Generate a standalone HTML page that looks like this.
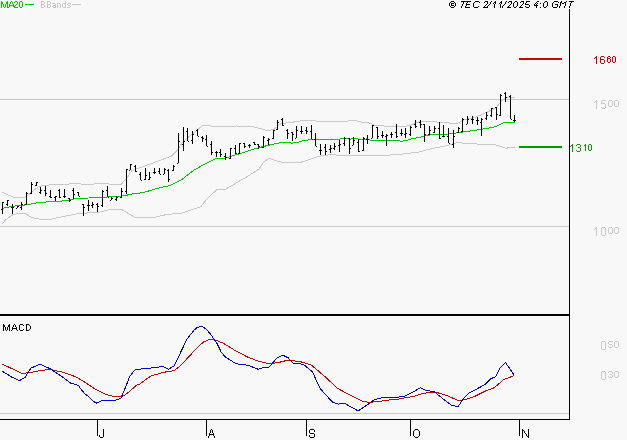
<!DOCTYPE html>
<html><head><meta charset="utf-8"><style>
html,body{margin:0;padding:0;background:#f8f8f8;}
svg{display:block;will-change:transform;}
text{font-family:"Liberation Sans",sans-serif;text-rendering:geometricPrecision;}
</style></head><body>
<svg width="627" height="440" viewBox="0 0 627 440" shape-rendering="crispEdges">
<rect x="0" y="0" width="627" height="440" fill="#f8f8f8"/>
<!-- gridlines -->
<rect x="0" y="99" width="569" height="1" fill="#c8c8c8"/>
<rect x="0" y="226" width="569" height="1" fill="#c8c8c8"/>
<rect x="0" y="413" width="569" height="1" fill="#c8c8c8"/>
<!-- axes -->
<rect x="569" y="9" width="1" height="411" fill="#000"/>
<rect x="0" y="314" width="569" height="2" fill="#000"/>
<rect x="0" y="419" width="570" height="1" fill="#000"/>
<rect x="97" y="419" width="1" height="17" fill="#000"/>
<rect x="206" y="419" width="1" height="17" fill="#000"/>
<rect x="306" y="419" width="1" height="17" fill="#000"/>
<rect x="410" y="419" width="1" height="17" fill="#000"/>
<rect x="519" y="419" width="1" height="17" fill="#000"/>
<!-- bands -->
<g fill="none" shape-rendering="crispEdges">
<path d="M2.0,192.2 L7.7,194.8 L14.4,197.5 L23.9,198.0 L27.8,195.3 L32.5,191.5 L38.3,186.7 L44.0,185.3 L52.6,184.8 L60.0,184.3 L75.6,183.8 L90.1,184.3 L100.2,183.5 L109.1,184.0 L121.4,184.0 L127.0,178.0 L132.0,170.2 L140.0,167.8 L155.9,161.8 L171.8,155.9 L176.6,151.1 L181.4,143.9 L187.8,137.5 L194.2,132.8 L202.1,125.9 L208.5,125.6 L216.5,126.9 L224.0,126.7 L236.0,126.0 L251.9,126.4 L259.9,128.4 L267.8,130.7 L274.2,129.2 L280.6,123.9 L284.3,123.3 L294.3,121.9 L305.8,120.2 L313.0,120.5 L320.2,121.9 L334.5,121.9 L346.0,121.2 L354.6,120.5 L360.3,121.9 L370.0,123.2 L374.2,125.2 L383.8,126.0 L396.6,126.7 L406.1,126.3 L412.5,124.4 L420.0,121.6 L432.8,121.6 L443.9,122.7 L456.7,123.5 L464.7,119.5 L475.8,117.1 L487.0,112.3 L496.6,107.5 L501.3,101.2 L506.1,97.2 L514.9,97.2" stroke="#c8c8c8" stroke-width="1"/>
<path d="M2.0,223.9 L6.4,219.2 L12.8,214.8 L19.1,213.3 L25.5,213.9 L31.9,217.6 L39.9,219.2 L51.0,219.2 L63.8,216.4 L76.6,213.9 L89.3,212.8 L100.0,212.0 L111.5,209.2 L121.1,209.2 L134.4,217.2 L155.5,217.2 L167.0,214.4 L180.4,213.4 L195.7,208.6 L200.8,206.6 L208.0,197.8 L217.5,189.1 L225.5,189.1 L236.7,182.7 L247.8,176.3 L259.0,169.1 L263.8,162.0 L268.6,158.3 L278.1,161.5 L282.9,162.4 L300.0,162.5 L319.1,156.3 L328.7,154.9 L357.4,155.3 L386.1,155.3 L405.3,153.8 L420.0,151.9 L429.1,149.1 L448.3,145.3 L457.8,142.4 L467.4,143.8 L494.2,144.4 L505.7,148.2 L515.3,147.2" stroke="#c8c8c8" stroke-width="1"/>
<path d="M2.0,208.5 L9.6,206.9 L15.3,206.0 L22.0,205.3 L28.7,204.5 L33.5,203.6 L38.3,202.4 L52.6,201.7 L55.5,201.2 L60.0,201.2 L69.6,200.0 L76.3,198.3 L88.7,198.0 L100.2,197.6 L108.8,196.8 L120.0,196.4 L126.7,195.2 L134.4,193.5 L143.0,192.8 L151.6,190.0 L160.2,187.6 L167.8,186.1 L170.0,185.3 L176.4,182.5 L182.8,178.9 L187.5,174.9 L193.9,170.2 L199.5,167.0 L205.1,163.8 L209.9,161.4 L215.5,158.6 L220.0,158.4 L223.0,158.4 L228.7,157.2 L233.5,155.3 L238.0,154.2 L245.7,151.7 L253.3,149.3 L261.9,146.9 L269.6,145.0 L280.1,142.8 L289.7,142.4 L291.6,143.2 L298.0,142.2 L303.7,140.5 L312.4,139.6 L326.7,139.3 L340.1,139.1 L343.0,138.1 L347.8,138.6 L349.7,139.4 L353.5,138.1 L358.0,139.1 L367.6,139.0 L370.4,140.2 L398.2,140.2 L401.1,141.4 L407.8,140.2 L413.5,138.3 L418.0,137.7 L423.7,136.4 L432.4,134.4 L449.6,134.0 L452.4,133.3 L460.1,132.7 L465.8,131.4 L474.8,130.5 L479.6,129.6 L486.0,128.4 L493.9,127.2 L497.9,125.6 L504.3,122.4 L514.7,122.4" stroke="#00c800" stroke-width="1"/>
<path d="M2.0,364.2 L2.3,364.2 L13.6,369.4 L21.6,373.3 L29.5,372.8 L40.9,370.5 L50.0,369.4 L63.6,372.4 L77.3,377.4 L80.0,379.3 L85.7,382.7 L91.4,386.7 L97.0,390.1 L102.7,393.0 L108.4,395.2 L114.1,396.4 L120.9,396.9 L125.5,394.7 L131.1,390.1 L136.8,385.0 L140.0,383.9 L150.5,376.2 L163.0,372.4 L172.0,371.0 L175.1,370.0 L181.4,364.9 L187.0,358.6 L195.0,350.1 L199.5,345.6 L204.1,341.6 L208.6,339.9 L213.2,339.3 L217.7,341.0 L223.4,343.3 L230.0,347.3 L234.5,350.1 L248.2,357.4 L259.5,361.5 L269.1,363.7 L278.2,362.6 L287.3,360.3 L299.8,361.5 L311.1,364.9 L325.9,377.4 L337.3,388.3 L350.9,395.5 L362.3,401.2 L369.1,402.4 L380.5,401.2 L391.8,399.6 L399.1,399.0 L415.0,396.0 L423.0,393.3 L435.5,392.1 L446.8,395.5 L458.2,400.5 L465.0,399.6 L474.1,396.7 L485.5,391.0 L494.5,387.6 L503.6,379.6 L514.5,375.5" stroke="#cc0000" stroke-width="1"/>
<path d="M2.0,371.2 L2.3,371.2 L11.4,376.9 L19.3,380.8 L25.0,377.4 L30.7,368.3 L39.8,364.2 L50.0,368.7 L59.1,374.6 L70.5,383.0 L78.4,385.3 L80.0,387.8 L84.5,393.5 L89.1,396.9 L93.6,401.5 L97.0,403.2 L102.7,400.3 L114.1,400.9 L120.9,398.1 L125.5,387.3 L130.0,375.9 L135.7,369.1 L140.0,369.1 L143.6,368.7 L152.7,367.8 L163.0,366.5 L168.6,369.4 L170.0,368.3 L174.5,365.5 L181.4,350.7 L187.0,339.3 L193.9,330.2 L197.3,327.4 L201.8,326.3 L206.4,329.1 L210.9,334.8 L216.6,342.7 L221.1,351.8 L225.7,357.5 L230.0,359.8 L235.7,363.7 L248.2,365.3 L258.4,369.4 L264.1,367.1 L269.1,367.1 L277.0,358.0 L282.7,355.1 L288.4,358.0 L293.0,363.3 L303.2,364.2 L312.3,371.7 L320.2,388.7 L332.7,402.4 L338.4,404.2 L344.1,403.0 L350.9,406.9 L358.2,411.0 L369.1,403.5 L373.6,400.1 L382.7,397.4 L403.6,396.9 L412.7,392.1 L420.7,387.6 L424.1,389.9 L434.3,391.7 L442.3,398.3 L451.4,405.3 L458.2,406.5 L462.7,399.6 L469.5,392.8 L476.4,389.2 L485.5,384.2 L491.1,378.5 L495.7,376.9 L500.2,367.8 L505.5,362.6 L514.5,375.5" stroke="#0000cc" stroke-width="1"/>
</g>
<!-- bars -->
<g fill="#000">
<rect x="2" y="202" width="1" height="12"/>
<rect x="1" y="209" width="1" height="1"/>
<rect x="3" y="202" width="1" height="1"/>
<rect x="7" y="200" width="1" height="6"/>
<rect x="6" y="204" width="1" height="1"/>
<rect x="8" y="200" width="1" height="1"/>
<rect x="12" y="204" width="1" height="10"/>
<rect x="11" y="207" width="1" height="1"/>
<rect x="13" y="207" width="1" height="1"/>
<rect x="17" y="206" width="1" height="2"/>
<rect x="16" y="208" width="1" height="1"/>
<rect x="18" y="206" width="1" height="1"/>
<rect x="21" y="202" width="1" height="8"/>
<rect x="20" y="207" width="1" height="1"/>
<rect x="22" y="204" width="1" height="1"/>
<rect x="26" y="192" width="1" height="13"/>
<rect x="25" y="204" width="1" height="1"/>
<rect x="27" y="193" width="1" height="1"/>
<rect x="31" y="182" width="1" height="12"/>
<rect x="30" y="193" width="1" height="1"/>
<rect x="32" y="184" width="1" height="1"/>
<rect x="36" y="182" width="1" height="4"/>
<rect x="35" y="185" width="1" height="1"/>
<rect x="37" y="182" width="1" height="1"/>
<rect x="40" y="187" width="1" height="7"/>
<rect x="39" y="192" width="1" height="1"/>
<rect x="41" y="190" width="1" height="1"/>
<rect x="45" y="186" width="1" height="10"/>
<rect x="44" y="190" width="1" height="1"/>
<rect x="46" y="193" width="1" height="1"/>
<rect x="50" y="190" width="1" height="8"/>
<rect x="49" y="196" width="1" height="1"/>
<rect x="51" y="197" width="1" height="1"/>
<rect x="55" y="196" width="1" height="5"/>
<rect x="54" y="197" width="1" height="1"/>
<rect x="56" y="196" width="1" height="1"/>
<rect x="59" y="189" width="1" height="9"/>
<rect x="58" y="190" width="1" height="1"/>
<rect x="60" y="197" width="1" height="1"/>
<rect x="64" y="189" width="1" height="9"/>
<rect x="63" y="196" width="1" height="1"/>
<rect x="65" y="196" width="1" height="1"/>
<rect x="69" y="198" width="1" height="4"/>
<rect x="68" y="198" width="1" height="1"/>
<rect x="70" y="200" width="1" height="1"/>
<rect x="73" y="188" width="1" height="11"/>
<rect x="72" y="190" width="1" height="1"/>
<rect x="74" y="194" width="1" height="1"/>
<rect x="78" y="192" width="1" height="4"/>
<rect x="77" y="192" width="1" height="1"/>
<rect x="79" y="196" width="1" height="1"/>
<rect x="83" y="204" width="1" height="12"/>
<rect x="82" y="204" width="1" height="1"/>
<rect x="84" y="207" width="1" height="1"/>
<rect x="88" y="200" width="1" height="11"/>
<rect x="87" y="205" width="1" height="1"/>
<rect x="89" y="205" width="1" height="1"/>
<rect x="92" y="202" width="1" height="6"/>
<rect x="91" y="205" width="1" height="1"/>
<rect x="93" y="204" width="1" height="1"/>
<rect x="97" y="203" width="1" height="9"/>
<rect x="96" y="204" width="1" height="1"/>
<rect x="98" y="206" width="1" height="1"/>
<rect x="102" y="190" width="1" height="17"/>
<rect x="101" y="205" width="1" height="1"/>
<rect x="103" y="191" width="1" height="1"/>
<rect x="107" y="186" width="1" height="11"/>
<rect x="106" y="190" width="1" height="1"/>
<rect x="108" y="197" width="1" height="1"/>
<rect x="111" y="197" width="1" height="3"/>
<rect x="110" y="200" width="1" height="1"/>
<rect x="112" y="198" width="1" height="1"/>
<rect x="116" y="196" width="1" height="5"/>
<rect x="115" y="199" width="1" height="1"/>
<rect x="117" y="197" width="1" height="1"/>
<rect x="121" y="188" width="1" height="10"/>
<rect x="120" y="197" width="1" height="1"/>
<rect x="122" y="191" width="1" height="1"/>
<rect x="126" y="169" width="1" height="25"/>
<rect x="125" y="191" width="1" height="1"/>
<rect x="127" y="169" width="1" height="1"/>
<rect x="130" y="164" width="1" height="6"/>
<rect x="129" y="170" width="1" height="1"/>
<rect x="131" y="164" width="1" height="1"/>
<rect x="135" y="165" width="1" height="7"/>
<rect x="134" y="166" width="1" height="1"/>
<rect x="136" y="171" width="1" height="1"/>
<rect x="140" y="172" width="1" height="8"/>
<rect x="139" y="174" width="1" height="1"/>
<rect x="141" y="180" width="1" height="1"/>
<rect x="145" y="168" width="1" height="12"/>
<rect x="144" y="179" width="1" height="1"/>
<rect x="146" y="175" width="1" height="1"/>
<rect x="149" y="172" width="1" height="8"/>
<rect x="148" y="179" width="1" height="1"/>
<rect x="150" y="177" width="1" height="1"/>
<rect x="154" y="168" width="1" height="6"/>
<rect x="153" y="172" width="1" height="1"/>
<rect x="155" y="172" width="1" height="1"/>
<rect x="159" y="168" width="1" height="6"/>
<rect x="158" y="171" width="1" height="1"/>
<rect x="160" y="174" width="1" height="1"/>
<rect x="164" y="168" width="1" height="6"/>
<rect x="163" y="174" width="1" height="1"/>
<rect x="165" y="169" width="1" height="1"/>
<rect x="168" y="169" width="1" height="13"/>
<rect x="167" y="170" width="1" height="1"/>
<rect x="169" y="179" width="1" height="1"/>
<rect x="173" y="165" width="1" height="6"/>
<rect x="172" y="170" width="1" height="1"/>
<rect x="174" y="166" width="1" height="1"/>
<rect x="178" y="133" width="1" height="30"/>
<rect x="177" y="163" width="1" height="1"/>
<rect x="179" y="141" width="1" height="1"/>
<rect x="183" y="127" width="1" height="24"/>
<rect x="182" y="144" width="1" height="1"/>
<rect x="184" y="141" width="1" height="1"/>
<rect x="187" y="128" width="1" height="13"/>
<rect x="186" y="131" width="1" height="1"/>
<rect x="188" y="141" width="1" height="1"/>
<rect x="192" y="131" width="1" height="13"/>
<rect x="191" y="140" width="1" height="1"/>
<rect x="193" y="134" width="1" height="1"/>
<rect x="197" y="129" width="1" height="7"/>
<rect x="196" y="130" width="1" height="1"/>
<rect x="198" y="136" width="1" height="1"/>
<rect x="202" y="136" width="1" height="6"/>
<rect x="201" y="137" width="1" height="1"/>
<rect x="203" y="138" width="1" height="1"/>
<rect x="206" y="135" width="1" height="11"/>
<rect x="205" y="139" width="1" height="1"/>
<rect x="207" y="146" width="1" height="1"/>
<rect x="211" y="141" width="1" height="14"/>
<rect x="210" y="144" width="1" height="1"/>
<rect x="212" y="152" width="1" height="1"/>
<rect x="216" y="151" width="1" height="6"/>
<rect x="215" y="152" width="1" height="1"/>
<rect x="217" y="152" width="1" height="1"/>
<rect x="220" y="149" width="1" height="8"/>
<rect x="219" y="152" width="1" height="1"/>
<rect x="221" y="154" width="1" height="1"/>
<rect x="225" y="153" width="1" height="7"/>
<rect x="224" y="156" width="1" height="1"/>
<rect x="226" y="157" width="1" height="1"/>
<rect x="230" y="148" width="1" height="11"/>
<rect x="229" y="158" width="1" height="1"/>
<rect x="231" y="148" width="1" height="1"/>
<rect x="235" y="145" width="1" height="9"/>
<rect x="234" y="148" width="1" height="1"/>
<rect x="236" y="153" width="1" height="1"/>
<rect x="239" y="143" width="1" height="11"/>
<rect x="238" y="153" width="1" height="1"/>
<rect x="240" y="143" width="1" height="1"/>
<rect x="244" y="143" width="1" height="5"/>
<rect x="243" y="143" width="1" height="1"/>
<rect x="245" y="146" width="1" height="1"/>
<rect x="249" y="144" width="1" height="4"/>
<rect x="248" y="145" width="1" height="1"/>
<rect x="250" y="145" width="1" height="1"/>
<rect x="254" y="142" width="1" height="3"/>
<rect x="253" y="142" width="1" height="1"/>
<rect x="255" y="144" width="1" height="1"/>
<rect x="258" y="144" width="1" height="5"/>
<rect x="257" y="144" width="1" height="1"/>
<rect x="259" y="146" width="1" height="1"/>
<rect x="263" y="136" width="1" height="12"/>
<rect x="262" y="147" width="1" height="1"/>
<rect x="264" y="137" width="1" height="1"/>
<rect x="268" y="138" width="1" height="7"/>
<rect x="267" y="140" width="1" height="1"/>
<rect x="269" y="139" width="1" height="1"/>
<rect x="273" y="130" width="1" height="9"/>
<rect x="272" y="138" width="1" height="1"/>
<rect x="274" y="130" width="1" height="1"/>
<rect x="277" y="120" width="1" height="10"/>
<rect x="276" y="129" width="1" height="1"/>
<rect x="278" y="122" width="1" height="1"/>
<rect x="282" y="118" width="1" height="8"/>
<rect x="281" y="119" width="1" height="1"/>
<rect x="283" y="125" width="1" height="1"/>
<rect x="287" y="129" width="1" height="10"/>
<rect x="286" y="130" width="1" height="1"/>
<rect x="288" y="133" width="1" height="1"/>
<rect x="292" y="132" width="1" height="9"/>
<rect x="291" y="132" width="1" height="1"/>
<rect x="293" y="134" width="1" height="1"/>
<rect x="296" y="126" width="1" height="12"/>
<rect x="295" y="138" width="1" height="1"/>
<rect x="297" y="130" width="1" height="1"/>
<rect x="301" y="126" width="1" height="8"/>
<rect x="300" y="131" width="1" height="1"/>
<rect x="302" y="131" width="1" height="1"/>
<rect x="306" y="127" width="1" height="7"/>
<rect x="305" y="130" width="1" height="1"/>
<rect x="307" y="131" width="1" height="1"/>
<rect x="311" y="125" width="1" height="14"/>
<rect x="310" y="131" width="1" height="1"/>
<rect x="312" y="139" width="1" height="1"/>
<rect x="315" y="133" width="1" height="13"/>
<rect x="314" y="139" width="1" height="1"/>
<rect x="316" y="146" width="1" height="1"/>
<rect x="320" y="144" width="1" height="11"/>
<rect x="319" y="150" width="1" height="1"/>
<rect x="321" y="150" width="1" height="1"/>
<rect x="325" y="144" width="1" height="11"/>
<rect x="324" y="147" width="1" height="1"/>
<rect x="326" y="151" width="1" height="1"/>
<rect x="330" y="145" width="1" height="8"/>
<rect x="329" y="149" width="1" height="1"/>
<rect x="331" y="148" width="1" height="1"/>
<rect x="334" y="143" width="1" height="7"/>
<rect x="333" y="148" width="1" height="1"/>
<rect x="335" y="146" width="1" height="1"/>
<rect x="339" y="140" width="1" height="12"/>
<rect x="338" y="145" width="1" height="1"/>
<rect x="340" y="144" width="1" height="1"/>
<rect x="344" y="137" width="1" height="9"/>
<rect x="343" y="143" width="1" height="1"/>
<rect x="345" y="138" width="1" height="1"/>
<rect x="349" y="138" width="1" height="16"/>
<rect x="348" y="138" width="1" height="1"/>
<rect x="350" y="148" width="1" height="1"/>
<rect x="353" y="137" width="1" height="8"/>
<rect x="352" y="145" width="1" height="1"/>
<rect x="354" y="140" width="1" height="1"/>
<rect x="358" y="139" width="1" height="13"/>
<rect x="357" y="142" width="1" height="1"/>
<rect x="359" y="151" width="1" height="1"/>
<rect x="363" y="137" width="1" height="14"/>
<rect x="362" y="150" width="1" height="1"/>
<rect x="364" y="138" width="1" height="1"/>
<rect x="367" y="135" width="1" height="9"/>
<rect x="366" y="139" width="1" height="1"/>
<rect x="368" y="139" width="1" height="1"/>
<rect x="372" y="125" width="1" height="13"/>
<rect x="371" y="138" width="1" height="1"/>
<rect x="373" y="125" width="1" height="1"/>
<rect x="377" y="127" width="1" height="12"/>
<rect x="376" y="127" width="1" height="1"/>
<rect x="378" y="136" width="1" height="1"/>
<rect x="382" y="131" width="1" height="7"/>
<rect x="381" y="135" width="1" height="1"/>
<rect x="383" y="135" width="1" height="1"/>
<rect x="386" y="134" width="1" height="12"/>
<rect x="385" y="136" width="1" height="1"/>
<rect x="387" y="135" width="1" height="1"/>
<rect x="391" y="132" width="1" height="6"/>
<rect x="390" y="134" width="1" height="1"/>
<rect x="392" y="134" width="1" height="1"/>
<rect x="396" y="124" width="1" height="14"/>
<rect x="395" y="132" width="1" height="1"/>
<rect x="397" y="136" width="1" height="1"/>
<rect x="401" y="129" width="1" height="7"/>
<rect x="400" y="133" width="1" height="1"/>
<rect x="402" y="133" width="1" height="1"/>
<rect x="405" y="128" width="1" height="10"/>
<rect x="404" y="134" width="1" height="1"/>
<rect x="406" y="133" width="1" height="1"/>
<rect x="410" y="126" width="1" height="10"/>
<rect x="409" y="134" width="1" height="1"/>
<rect x="411" y="127" width="1" height="1"/>
<rect x="415" y="120" width="1" height="8"/>
<rect x="414" y="124" width="1" height="1"/>
<rect x="416" y="126" width="1" height="1"/>
<rect x="420" y="120" width="1" height="8"/>
<rect x="419" y="122" width="1" height="1"/>
<rect x="421" y="124" width="1" height="1"/>
<rect x="424" y="124" width="1" height="18"/>
<rect x="423" y="124" width="1" height="1"/>
<rect x="425" y="134" width="1" height="1"/>
<rect x="429" y="126" width="1" height="9"/>
<rect x="428" y="134" width="1" height="1"/>
<rect x="430" y="130" width="1" height="1"/>
<rect x="434" y="126" width="1" height="7"/>
<rect x="433" y="132" width="1" height="1"/>
<rect x="435" y="128" width="1" height="1"/>
<rect x="439" y="122" width="1" height="17"/>
<rect x="438" y="128" width="1" height="1"/>
<rect x="440" y="138" width="1" height="1"/>
<rect x="443" y="125" width="1" height="12"/>
<rect x="442" y="136" width="1" height="1"/>
<rect x="444" y="136" width="1" height="1"/>
<rect x="448" y="128" width="1" height="15"/>
<rect x="447" y="136" width="1" height="1"/>
<rect x="449" y="143" width="1" height="1"/>
<rect x="453" y="130" width="1" height="18"/>
<rect x="452" y="144" width="1" height="1"/>
<rect x="454" y="136" width="1" height="1"/>
<rect x="458" y="127" width="1" height="6"/>
<rect x="457" y="132" width="1" height="1"/>
<rect x="459" y="128" width="1" height="1"/>
<rect x="462" y="118" width="1" height="14"/>
<rect x="461" y="131" width="1" height="1"/>
<rect x="463" y="119" width="1" height="1"/>
<rect x="467" y="116" width="1" height="8"/>
<rect x="466" y="124" width="1" height="1"/>
<rect x="468" y="119" width="1" height="1"/>
<rect x="472" y="116" width="1" height="8"/>
<rect x="471" y="119" width="1" height="1"/>
<rect x="473" y="119" width="1" height="1"/>
<rect x="477" y="117" width="1" height="8"/>
<rect x="476" y="120" width="1" height="1"/>
<rect x="478" y="120" width="1" height="1"/>
<rect x="481" y="118" width="1" height="18"/>
<rect x="480" y="122" width="1" height="1"/>
<rect x="482" y="119" width="1" height="1"/>
<rect x="486" y="112" width="1" height="8"/>
<rect x="485" y="118" width="1" height="1"/>
<rect x="487" y="115" width="1" height="1"/>
<rect x="491" y="108" width="1" height="9"/>
<rect x="490" y="115" width="1" height="1"/>
<rect x="492" y="108" width="1" height="1"/>
<rect x="496" y="107" width="1" height="13"/>
<rect x="495" y="107" width="1" height="1"/>
<rect x="497" y="114" width="1" height="1"/>
<rect x="500" y="94" width="1" height="22"/>
<rect x="499" y="115" width="1" height="1"/>
<rect x="501" y="95" width="1" height="1"/>
<rect x="505" y="92" width="1" height="10"/>
<rect x="504" y="93" width="1" height="1"/>
<rect x="506" y="97" width="1" height="1"/>
<rect x="510" y="95" width="1" height="24"/>
<rect x="509" y="96" width="1" height="1"/>
<rect x="511" y="119" width="1" height="1"/>
<rect x="514" y="115" width="1" height="7"/>
<rect x="513" y="120" width="1" height="1"/>
<rect x="515" y="120" width="1" height="1"/>
</g>
<!-- levels -->
<rect x="519" y="58" width="43" height="2" fill="#cc0000"/>
<rect x="519" y="146" width="43" height="2" fill="#009900"/>
<!-- texts -->
<path fill="#c8c8c8" d="M596 100h1v1h-1zM595 101h2v1h-2zM594 102h1v1h-1zM596 102h1v1h-1zM596 103h1v1h-1zM596 104h1v1h-1zM596 105h1v1h-1zM596 106h1v1h-1zM596 107h1v1h-1zM596 108h1v1h-1zM602 100h4v1h-4zM601 101h1v1h-1zM601 102h1v1h-1zM601 103h4v1h-4zM605 104h1v1h-1zM605 105h1v1h-1zM605 106h1v1h-1zM601 107h1v1h-1zM605 107h1v1h-1zM602 108h3v1h-3zM609 100h3v1h-3zM608 101h1v1h-1zM612 101h1v1h-1zM608 102h1v1h-1zM612 102h1v1h-1zM608 103h1v1h-1zM612 103h1v1h-1zM608 104h1v1h-1zM612 104h1v1h-1zM608 105h1v1h-1zM612 105h1v1h-1zM609 106h3v1h-3zM615 100h3v1h-3zM614 101h1v1h-1zM618 101h1v1h-1zM614 102h1v1h-1zM618 102h1v1h-1zM614 103h1v1h-1zM618 103h1v1h-1zM614 104h1v1h-1zM618 104h1v1h-1zM614 105h1v1h-1zM618 105h1v1h-1zM615 106h3v1h-3zM596 227h1v1h-1zM595 228h2v1h-2zM594 229h1v1h-1zM596 229h1v1h-1zM596 230h1v1h-1zM596 231h1v1h-1zM596 232h1v1h-1zM596 233h1v1h-1zM596 234h1v1h-1zM596 235h1v1h-1zM602 227h3v1h-3zM601 228h1v1h-1zM605 228h1v1h-1zM601 229h1v1h-1zM605 229h1v1h-1zM601 230h1v1h-1zM605 230h1v1h-1zM601 231h1v1h-1zM605 231h1v1h-1zM601 232h1v1h-1zM605 232h1v1h-1zM601 233h1v1h-1zM605 233h1v1h-1zM601 234h1v1h-1zM605 234h1v1h-1zM602 235h3v1h-3zM609 227h3v1h-3zM608 228h1v1h-1zM612 228h1v1h-1zM608 229h1v1h-1zM612 229h1v1h-1zM608 230h1v1h-1zM612 230h1v1h-1zM608 231h1v1h-1zM612 231h1v1h-1zM608 232h1v1h-1zM612 232h1v1h-1zM609 233h3v1h-3zM615 227h3v1h-3zM614 228h1v1h-1zM618 228h1v1h-1zM614 229h1v1h-1zM618 229h1v1h-1zM614 230h1v1h-1zM618 230h1v1h-1zM614 231h1v1h-1zM618 231h1v1h-1zM614 232h1v1h-1zM618 232h1v1h-1zM615 233h3v1h-3zM602 341h3v1h-3zM601 342h1v1h-1zM605 342h1v1h-1zM601 343h1v1h-1zM605 343h1v1h-1zM601 344h1v1h-1zM605 344h1v1h-1zM601 345h1v1h-1zM605 345h1v1h-1zM601 346h1v1h-1zM605 346h1v1h-1zM601 347h1v1h-1zM605 347h1v1h-1zM601 348h1v1h-1zM605 348h1v1h-1zM602 349h3v1h-3zM609 341h4v1h-4zM608 342h1v1h-1zM608 343h1v1h-1zM609 344h3v1h-3zM612 345h1v1h-1zM608 346h1v1h-1zM612 346h1v1h-1zM609 347h3v1h-3zM615 341h3v1h-3zM614 342h1v1h-1zM618 342h1v1h-1zM614 343h1v1h-1zM618 343h1v1h-1zM614 344h1v1h-1zM618 344h1v1h-1zM614 345h1v1h-1zM618 345h1v1h-1zM614 346h1v1h-1zM618 346h1v1h-1zM615 347h3v1h-3zM602 371h3v1h-3zM601 372h1v1h-1zM605 372h1v1h-1zM601 373h1v1h-1zM605 373h1v1h-1zM601 374h1v1h-1zM605 374h1v1h-1zM601 375h1v1h-1zM605 375h1v1h-1zM601 376h1v1h-1zM605 376h1v1h-1zM601 377h1v1h-1zM605 377h1v1h-1zM601 378h1v1h-1zM605 378h1v1h-1zM602 379h3v1h-3zM609 371h3v1h-3zM608 372h1v1h-1zM612 372h1v1h-1zM612 373h1v1h-1zM610 374h2v1h-2zM612 375h1v1h-1zM608 376h1v1h-1zM612 376h1v1h-1zM609 377h3v1h-3zM615 371h3v1h-3zM614 372h1v1h-1zM618 372h1v1h-1zM614 373h1v1h-1zM618 373h1v1h-1zM614 374h1v1h-1zM618 374h1v1h-1zM614 375h1v1h-1zM618 375h1v1h-1zM614 376h1v1h-1zM618 376h1v1h-1zM615 377h3v1h-3zM41 1h3v1h-3zM41 2h1v1h-1zM44 2h1v1h-1zM41 3h1v1h-1zM44 3h1v1h-1zM41 4h3v1h-3zM41 5h1v1h-1zM44 5h1v1h-1zM41 6h1v1h-1zM44 6h1v1h-1zM41 7h3v1h-3zM47 1h3v1h-3zM47 2h1v1h-1zM50 2h1v1h-1zM47 3h1v1h-1zM50 3h1v1h-1zM47 4h3v1h-3zM47 5h1v1h-1zM50 5h1v1h-1zM47 6h1v1h-1zM50 6h1v1h-1zM47 7h3v1h-3zM52 3h3v1h-3zM55 4h1v1h-1zM53 5h3v1h-3zM52 6h1v1h-1zM55 6h1v1h-1zM53 7h3v1h-3zM57 3h3v1h-3zM57 4h1v1h-1zM60 4h1v1h-1zM57 5h1v1h-1zM60 5h1v1h-1zM57 6h1v1h-1zM60 6h1v1h-1zM57 7h1v1h-1zM60 7h1v1h-1zM65 1h1v1h-1zM65 2h1v1h-1zM63 3h3v1h-3zM62 4h1v1h-1zM65 4h1v1h-1zM62 5h1v1h-1zM65 5h1v1h-1zM62 6h1v1h-1zM65 6h1v1h-1zM63 7h3v1h-3zM68 3h3v1h-3zM67 4h1v1h-1zM68 5h2v1h-2zM70 6h1v1h-1zM67 7h3v1h-3z"/>
<path fill="#cc0000" d="M596 56h1v1h-1zM595 57h2v1h-2zM594 58h1v1h-1zM596 58h1v1h-1zM596 59h1v1h-1zM596 60h1v1h-1zM596 61h1v1h-1zM596 62h1v1h-1zM596 63h1v1h-1zM601 56h3v1h-3zM600 57h1v1h-1zM604 57h1v1h-1zM600 58h1v1h-1zM600 59h4v1h-4zM600 60h1v1h-1zM604 60h1v1h-1zM600 61h1v1h-1zM604 61h1v1h-1zM600 62h1v1h-1zM604 62h1v1h-1zM601 63h3v1h-3zM608 56h2v1h-2zM607 57h1v1h-1zM610 57h1v1h-1zM607 58h3v1h-3zM607 59h1v1h-1zM610 59h1v1h-1zM607 60h1v1h-1zM610 60h1v1h-1zM607 61h1v1h-1zM610 61h1v1h-1zM608 62h2v1h-2zM613 56h2v1h-2zM612 57h1v1h-1zM615 57h1v1h-1zM612 58h1v1h-1zM615 58h1v1h-1zM612 59h1v1h-1zM615 59h1v1h-1zM612 60h1v1h-1zM615 60h1v1h-1zM612 61h1v1h-1zM615 61h1v1h-1zM613 62h2v1h-2z"/>
<path fill="#009900" d="M572 144h1v1h-1zM571 145h2v1h-2zM570 146h1v1h-1zM572 146h1v1h-1zM572 147h1v1h-1zM572 148h1v1h-1zM572 149h1v1h-1zM572 150h1v1h-1zM572 151h1v1h-1zM577 144h3v1h-3zM576 145h1v1h-1zM580 145h1v1h-1zM580 146h1v1h-1zM578 147h2v1h-2zM580 148h1v1h-1zM580 149h1v1h-1zM576 150h1v1h-1zM580 150h1v1h-1zM577 151h3v1h-3zM585 144h1v1h-1zM584 145h2v1h-2zM585 146h1v1h-1zM585 147h1v1h-1zM585 148h1v1h-1zM585 149h1v1h-1zM585 150h1v1h-1zM589 144h2v1h-2zM588 145h1v1h-1zM591 145h1v1h-1zM588 146h1v1h-1zM591 146h1v1h-1zM588 147h1v1h-1zM591 147h1v1h-1zM588 148h1v1h-1zM591 148h1v1h-1zM588 149h1v1h-1zM591 149h1v1h-1zM589 150h2v1h-2z"/>
<path fill="#00c800" d="M1 1h1v1h-1zM7 1h1v1h-1zM1 2h2v1h-2zM6 2h2v1h-2zM1 3h2v1h-2zM6 3h2v1h-2zM1 4h1v1h-1zM3 4h1v1h-1zM5 4h1v1h-1zM7 4h1v1h-1zM1 5h1v1h-1zM3 5h1v1h-1zM5 5h1v1h-1zM7 5h1v1h-1zM1 6h1v1h-1zM3 6h1v1h-1zM5 6h1v1h-1zM7 6h1v1h-1zM1 7h1v1h-1zM4 7h1v1h-1zM7 7h1v1h-1zM11 1h1v1h-1zM10 2h1v1h-1zM12 2h1v1h-1zM10 3h1v1h-1zM12 3h1v1h-1zM9 4h1v1h-1zM13 4h1v1h-1zM9 5h5v1h-5zM9 6h1v1h-1zM13 6h1v1h-1zM8 7h1v1h-1zM14 7h1v1h-1zM15 1h2v1h-2zM14 2h1v1h-1zM17 2h1v1h-1zM17 3h1v1h-1zM16 4h1v1h-1zM15 5h1v1h-1zM14 6h1v1h-1zM14 7h4v1h-4zM20 1h2v1h-2zM19 2h1v1h-1zM22 2h1v1h-1zM19 3h1v1h-1zM22 3h1v1h-1zM19 4h1v1h-1zM22 4h1v1h-1zM19 5h1v1h-1zM22 5h1v1h-1zM19 6h1v1h-1zM22 6h1v1h-1zM20 7h2v1h-2z"/>
<path fill="#000" d="M103 429h1v1h-1zM103 430h1v1h-1zM103 431h1v1h-1zM103 432h1v1h-1zM103 433h1v1h-1zM103 434h1v1h-1zM99 435h1v1h-1zM103 435h1v1h-1zM99 436h1v1h-1zM103 436h1v1h-1zM100 437h3v1h-3zM211 429h1v1h-1zM210 430h1v1h-1zM212 430h1v1h-1zM210 431h1v1h-1zM212 431h1v1h-1zM210 432h1v1h-1zM212 432h1v1h-1zM209 433h1v1h-1zM213 433h1v1h-1zM209 434h5v1h-5zM209 435h1v1h-1zM213 435h1v1h-1zM208 436h1v1h-1zM214 436h1v1h-1zM208 437h1v1h-1zM214 437h1v1h-1zM310 429h4v1h-4zM309 430h1v1h-1zM314 430h1v1h-1zM309 431h1v1h-1zM314 431h1v1h-1zM309 432h1v1h-1zM310 433h4v1h-4zM314 434h1v1h-1zM309 435h1v1h-1zM314 435h1v1h-1zM309 436h1v1h-1zM314 436h1v1h-1zM310 437h4v1h-4zM415 429h3v1h-3zM414 430h1v1h-1zM418 430h1v1h-1zM413 431h1v1h-1zM419 431h1v1h-1zM413 432h1v1h-1zM419 432h1v1h-1zM413 433h1v1h-1zM419 433h1v1h-1zM413 434h1v1h-1zM419 434h1v1h-1zM413 435h1v1h-1zM419 435h1v1h-1zM414 436h1v1h-1zM418 436h1v1h-1zM415 437h3v1h-3zM522 429h1v1h-1zM528 429h1v1h-1zM522 430h2v1h-2zM528 430h1v1h-1zM522 431h1v1h-1zM524 431h1v1h-1zM528 431h1v1h-1zM522 432h1v1h-1zM524 432h1v1h-1zM528 432h1v1h-1zM522 433h1v1h-1zM525 433h1v1h-1zM528 433h1v1h-1zM522 434h1v1h-1zM526 434h1v1h-1zM528 434h1v1h-1zM522 435h1v1h-1zM526 435h1v1h-1zM528 435h1v1h-1zM522 436h1v1h-1zM527 436h2v1h-2zM522 437h1v1h-1zM528 437h1v1h-1zM3 324h1v1h-1zM9 324h1v1h-1zM3 325h2v1h-2zM8 325h2v1h-2zM3 326h2v1h-2zM8 326h2v1h-2zM3 327h1v1h-1zM5 327h1v1h-1zM7 327h1v1h-1zM9 327h1v1h-1zM3 328h1v1h-1zM5 328h1v1h-1zM7 328h1v1h-1zM9 328h1v1h-1zM3 329h1v1h-1zM5 329h1v1h-1zM7 329h1v1h-1zM9 329h1v1h-1zM3 330h1v1h-1zM6 330h1v1h-1zM9 330h1v1h-1zM14 324h1v1h-1zM13 325h1v1h-1zM15 325h1v1h-1zM13 326h1v1h-1zM15 326h1v1h-1zM12 327h1v1h-1zM16 327h1v1h-1zM12 328h5v1h-5zM12 329h1v1h-1zM16 329h1v1h-1zM11 330h1v1h-1zM17 330h1v1h-1zM20 324h3v1h-3zM19 325h1v1h-1zM23 325h1v1h-1zM19 326h1v1h-1zM19 327h1v1h-1zM19 328h1v1h-1zM19 329h1v1h-1zM23 329h1v1h-1zM20 330h3v1h-3zM26 324h3v1h-3zM26 325h1v1h-1zM29 325h1v1h-1zM26 326h1v1h-1zM30 326h1v1h-1zM26 327h1v1h-1zM30 327h1v1h-1zM26 328h1v1h-1zM30 328h1v1h-1zM26 329h1v1h-1zM29 329h1v1h-1zM26 330h3v1h-3z"/>
<path fill="#000" d="M451 1h3v1h-3zM450 2h1v1h-1zM454 2h1v1h-1zM449 3h1v1h-1zM451 3h3v1h-3zM455 3h1v1h-1zM449 4h1v1h-1zM451 4h1v1h-1zM455 4h1v1h-1zM449 5h1v1h-1zM451 5h3v1h-3zM455 5h1v1h-1zM450 6h1v1h-1zM454 6h1v1h-1zM451 7h3v1h-3zM461 1h6v1h-6zM463 2h1v1h-1zM463 3h1v1h-1zM462 4h1v1h-1zM462 5h1v1h-1zM461 6h1v1h-1zM461 7h1v1h-1zM467 1h4v1h-4zM467 2h1v1h-1zM466 3h1v1h-1zM466 4h4v1h-4zM466 5h1v1h-1zM465 6h1v1h-1zM465 7h5v1h-5zM475 1h4v1h-4zM474 2h1v1h-1zM479 2h1v1h-1zM473 3h1v1h-1zM473 4h1v1h-1zM473 5h1v1h-1zM473 6h1v1h-1zM478 6h1v1h-1zM474 7h4v1h-4zM485 1h3v1h-3zM484 2h1v1h-1zM487 2h1v1h-1zM487 3h1v1h-1zM486 4h1v1h-1zM485 5h1v1h-1zM484 6h1v1h-1zM483 7h4v1h-4zM491 1h1v1h-1zM490 2h1v1h-1zM490 3h1v1h-1zM489 4h1v1h-1zM488 5h1v1h-1zM487 6h1v1h-1zM487 7h1v1h-1zM495 1h1v1h-1zM494 2h2v1h-2zM493 3h1v1h-1zM495 3h1v1h-1zM494 4h1v1h-1zM494 5h1v1h-1zM494 6h1v1h-1zM494 7h1v1h-1zM501 1h1v1h-1zM500 2h2v1h-2zM499 3h1v1h-1zM501 3h1v1h-1zM500 4h1v1h-1zM500 5h1v1h-1zM500 6h1v1h-1zM500 7h1v1h-1zM506 1h1v1h-1zM505 2h1v1h-1zM505 3h1v1h-1zM504 4h1v1h-1zM503 5h1v1h-1zM502 6h1v1h-1zM502 7h1v1h-1zM509 1h3v1h-3zM508 2h1v1h-1zM511 2h1v1h-1zM511 3h1v1h-1zM510 4h1v1h-1zM509 5h1v1h-1zM508 6h1v1h-1zM507 7h4v1h-4zM515 1h2v1h-2zM514 2h1v1h-1zM517 2h1v1h-1zM513 3h1v1h-1zM517 3h1v1h-1zM513 4h1v1h-1zM517 4h1v1h-1zM513 5h1v1h-1zM517 5h1v1h-1zM513 6h1v1h-1zM516 6h1v1h-1zM514 7h2v1h-2zM521 1h3v1h-3zM520 2h1v1h-1zM523 2h1v1h-1zM523 3h1v1h-1zM522 4h1v1h-1zM521 5h1v1h-1zM520 6h1v1h-1zM519 7h4v1h-4zM526 1h4v1h-4zM526 2h1v1h-1zM525 3h1v1h-1zM525 4h4v1h-4zM529 5h1v1h-1zM525 6h1v1h-1zM529 6h1v1h-1zM526 7h3v1h-3zM537 1h2v1h-2zM536 2h1v1h-1zM535 3h1v1h-1zM537 3h1v1h-1zM534 4h1v1h-1zM536 4h1v1h-1zM534 5h4v1h-4zM536 6h1v1h-1zM536 7h1v1h-1zM540 3h1v1h-1zM540 7h1v1h-1zM545 1h2v1h-2zM544 2h1v1h-1zM547 2h1v1h-1zM543 3h1v1h-1zM547 3h1v1h-1zM543 4h1v1h-1zM547 4h1v1h-1zM543 5h1v1h-1zM547 5h1v1h-1zM543 6h1v1h-1zM546 6h1v1h-1zM544 7h2v1h-2zM554 1h4v1h-4zM553 2h1v1h-1zM558 2h1v1h-1zM552 3h1v1h-1zM552 4h1v1h-1zM555 4h3v1h-3zM552 5h1v1h-1zM557 5h1v1h-1zM552 6h1v1h-1zM557 6h1v1h-1zM553 7h4v1h-4zM561 1h1v1h-1zM566 1h1v1h-1zM560 2h2v1h-2zM564 2h2v1h-2zM560 3h1v1h-1zM562 3h2v1h-2zM565 3h1v1h-1zM560 4h1v1h-1zM565 4h1v1h-1zM560 5h1v1h-1zM565 5h1v1h-1zM559 6h1v1h-1zM564 6h1v1h-1zM559 7h1v1h-1zM564 7h1v1h-1zM569 1h5v1h-5zM571 2h1v1h-1zM570 3h1v1h-1zM570 4h1v1h-1zM570 5h1v1h-1zM569 6h1v1h-1zM569 7h1v1h-1z"/>
<rect x="25" y="4" width="9" height="1" fill="#00c800"/>
<rect x="72" y="4" width="9" height="1" fill="#c8c8c8"/>
</svg>
</body></html>
